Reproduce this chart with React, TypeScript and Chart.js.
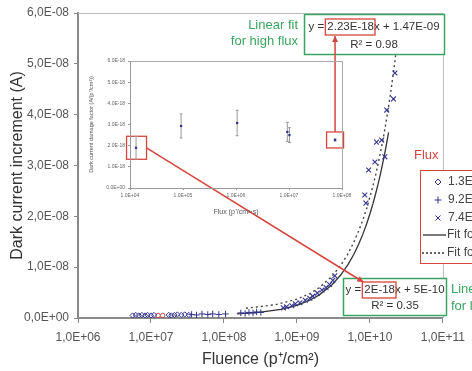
import React, { useEffect, useRef } from 'react';
import { Chart, registerables } from 'chart.js';
Chart.register(...registerables);

const FONT = "'Liberation Sans', Arial, sans-serif";
const NAVY = '#33338f';
const RED = '#d6453d';
const GREEN = '#3aa461';
const GREY_TEXT = '#555555';

// ---- main chart axes ----
const xTickValues = [1e6, 1e7, 1e8, 1e9, 1e10, 1e11];
const xTickLabels = ['1,0E+06', '1,0E+07', '1,0E+08', '1,0E+09', '1,0E+10', '1,0E+11'];
const yTickValues = [0, 1e-8, 2e-8, 3e-8, 4e-8, 5e-8, 6e-8];
const yTickLabels = ['0,0E+00', '1,0E-08', '2,0E-08', '3,0E-08', '4,0E-08', '5,0E-08', '6,0E-08'];

// ---- main chart series (fluence, dark current increment) ----
const lowFluence = [5.6e6, 6.2e6, 6.8e6, 7.5e6, 8.3e6, 9.0e6, 1.0e7, 1.1e7, 1.75e7, 1.9e7, 2.1e7, 2.3e7, 2.6e7, 2.9e7, 3.3e7];
const lowValues = [5e-10, 6e-10, 5e-10, 6e-10, 5e-10, 6e-10, 5e-10, 6e-10, 6e-10, 5e-10, 6e-10, 7e-10, 6e-10, 7e-10, 6e-10];

const otherFluence = [1.25e7, 1.45e7];
const otherValues = [5e-10, 5e-10];

const midFluence = [3.6e7, 4.2e7, 5e7, 6e7, 7e7, 8.5e7, 1.05e8, 1.7e8, 1.95e8, 2.2e8, 2.5e8, 2.8e8, 3.2e8];
const midValues = [7e-10, 6e-10, 8e-10, 7e-10, 8e-10, 7e-10, 8e-10, 1.0e-9, 9e-10, 1.1e-9, 1.0e-9, 1.2e-9, 1.1e-9];

const highFluence = [6.5e8, 7.2e8, 8.5e8, 9.5e8, 1.1e9, 1.3e9, 1.5e9, 1.65e9, 1.9e9, 2.2e9, 2.5e9, 2.8e9, 3.1e9, 3.3e9, 8.5e9, 8.8e9, 9.6e9, 1.17e10, 1.23e10, 1.45e10, 1.6e10, 1.7e10, 2.1e10, 2.2e10];
const highValues = [2.0e-9, 2.2e-9, 2.4e-9, 2.8e-9, 3.0e-9, 3.5e-9, 3.9e-9, 4.3e-9, 4.9e-9, 5.5e-9, 6.0e-9, 6.6e-9, 7.4e-9, 8.3e-9, 2.42e-8, 2.26e-8, 2.91e-8, 3.07e-8, 3.46e-8, 3.5e-8, 3.17e-8, 4.09e-8, 4.31e-8, 4.82e-8];

// fit curves
const fitLowFluence = [1.5e8, 3e8, 6e8, 1e9, 1.5e9, 2e9, 3e9, 4e9, 5e9, 6e9, 7e9, 8e9, 9e9, 1e10, 1.1e10, 1.2e10, 1.3e10, 1.4e10, 1.5e10, 1.6e10, 1.7e10, 1.8e10];
const fitLowValues = [8e-10, 1.1e-9, 1.7e-9, 2.5e-9, 3.5e-9, 4.5e-9, 6.5e-9, 8.5e-9, 1.05e-8, 1.25e-8, 1.45e-8, 1.65e-8, 1.85e-8, 2.05e-8, 2.25e-8, 2.45e-8, 2.65e-8, 2.85e-8, 3.05e-8, 3.25e-8, 3.45e-8, 3.65e-8];
const fitHighFluence = [2e8, 5e8, 1e9, 1.5e9, 2e9, 3e9, 4e9, 5e9, 6e9, 7e9, 8e9, 9e9, 1e10, 1.1e10, 1.2e10, 1.3e10, 1.4e10, 1.5e10, 1.6e10, 1.7e10, 1.8e10, 1.9e10, 2e10, 2.1e10, 2.25e10];
const fitHighValues = [1.92e-9, 2.6e-9, 3.7e-9, 4.8e-9, 5.93e-9, 8.16e-9, 1.04e-8, 1.26e-8, 1.49e-8, 1.71e-8, 1.93e-8, 2.15e-8, 2.38e-8, 2.6e-8, 2.82e-8, 3.05e-8, 3.27e-8, 3.49e-8, 3.71e-8, 3.94e-8, 4.16e-8, 4.38e-8, 4.61e-8, 4.83e-8, 5.17e-8];

// ---- inset ----
const insetXTickValues = [1e4, 1e5, 1e6, 1e7, 1e8];
const insetXTickLabels = ['1.0E+04', '1.0E+05', '1.0E+06', '1.0E+07', '1.0E+08'];
const insetYTickValues = [0, 1e-18, 2e-18, 3e-18, 4e-18, 5e-18, 6e-18];
const insetYTickLabels = ['0.0E+00', '1.0E-18', '2.0E-18', '3.0E-18', '4.0E-18', '5.0E-18', '6.0E-18'];
const insetFlux = [1.3e4, 9.2e4, 1.05e6, 9.3e6, 1.02e7, 7.4e7];
const insetFactor = [1.9e-18, 2.93e-18, 3.07e-18, 2.65e-18, 2.5e-18, 2.27e-18];
const insetError = [0.54e-18, 0.57e-18, 0.6e-18, 0.45e-18, 0.35e-18, 0.05e-18];

// legend labels
const legendLabels = ['1.3E+04 p⁺/cm²s', '9.2E+04 p⁺/cm²s', '7.4E+07 p⁺/cm²s', 'Fit for low flux', 'Fit for high flux'];

const pts = (xs: number[], ys: number[]) => xs.map((x, i) => ({ x, y: ys[i] }));

function arrow(ctx: CanvasRenderingContext2D, x1: number, y1: number, x2: number, y2: number) {
  ctx.beginPath();
  ctx.moveTo(x1, y1);
  ctx.lineTo(x2, y2);
  ctx.stroke();
  const a = Math.atan2(y2 - y1, x2 - x1);
  const L = 6, W = 3;
  ctx.beginPath();
  ctx.moveTo(x2, y2);
  ctx.lineTo(x2 - L * Math.cos(a) + W * Math.sin(a), y2 - L * Math.sin(a) - W * Math.cos(a));
  ctx.lineTo(x2 - L * Math.cos(a) - W * Math.sin(a), y2 - L * Math.sin(a) + W * Math.cos(a));
  ctx.closePath();
  ctx.fill();
}

function eqBox(ctx: CanvasRenderingContext2D, cx: number, y1: number, y2: number, pre: string, coef: string, post: string, r2: string) {
  ctx.font = `11.5px ${FONT}`;
  ctx.fillStyle = '#333';
  ctx.textBaseline = 'middle';
  ctx.textAlign = 'left';
  const full = pre + coef + post;
  const w = ctx.measureText(full).width;
  const x0 = cx - w / 2;
  ctx.fillText(full, x0, y1);
  const wPre = ctx.measureText(pre).width;
  const wCoef = ctx.measureText(pre + coef).width;
  ctx.textAlign = 'center';
  ctx.fillText(r2, cx, y2);
  ctx.strokeStyle = RED;
  ctx.lineWidth = 1.3;
  const box = { x: x0 + wPre - 2, y: y1 - 8, w: wCoef - wPre + 3, h: 16 };
  ctx.strokeRect(box.x, box.y, box.w, box.h);
  return box;
}

export default function App() {
  const mainRef = useRef<HTMLCanvasElement>(null);
  const insetRef = useRef<HTMLCanvasElement>(null);

  useEffect(() => {
    document.body.style.margin = '0';
    Chart.defaults.font.family = FONT;
    const INSET_LEFT = 80, INSET_TOP = 55;

    const errorBars = {
      id: 'errorBars',
      beforeDatasetsDraw(chart: any) {
        const { ctx } = chart;
        const xs = chart.scales.x, ys = chart.scales.y;
        ctx.save();
        ctx.strokeStyle = '#9a9a9a';
        ctx.lineWidth = 1;
        insetFlux.forEach((f, i) => {
          const x = xs.getPixelForValue(f);
          const t = ys.getPixelForValue(insetFactor[i] + insetError[i]);
          const b = ys.getPixelForValue(insetFactor[i] - insetError[i]);
          ctx.beginPath();
          ctx.moveTo(x, t); ctx.lineTo(x, b);
          ctx.moveTo(x - 1.5, t); ctx.lineTo(x + 1.5, t);
          ctx.moveTo(x - 1.5, b); ctx.lineTo(x + 1.5, b);
          ctx.stroke();
        });
        ctx.restore();
      },
      afterDraw(chart: any) {
        const { ctx, chartArea: a } = chart;
        ctx.save();
        ctx.strokeStyle = '#a8a8a8';
        ctx.lineWidth = 1;
        ctx.beginPath();
        ctx.moveTo(a.left, a.top + 0.5);
        ctx.lineTo(a.right + 0.5, a.top + 0.5);
        ctx.lineTo(a.right + 0.5, a.bottom);
        ctx.stroke();
        ctx.restore();
      },
    };

    const inset = new Chart(insetRef.current!, {
      type: 'scatter',
      data: {
        datasets: [{
          data: pts(insetFlux, insetFactor),
          pointStyle: 'rect', pointRadius: 1.6,
          backgroundColor: NAVY, borderColor: NAVY, borderWidth: 0,
        }],
      },
      options: {
        responsive: false, animation: false,
        layout: { padding: { top: 6, right: 13, left: 0, bottom: 0 } },
        plugins: { legend: { display: false }, tooltip: { enabled: false } },
        scales: {
          x: {
            type: 'logarithmic', min: 1e4, max: 1e8,
            afterBuildTicks: (s: any) => { s.ticks = insetXTickValues.map(v => ({ value: v })); },
            afterFit: (s: any) => { s.height = 32; },
            ticks: { font: { size: 5 }, color: '#666', padding: 3, maxRotation: 0, autoSkip: false, callback: (_v: any, i: number) => insetXTickLabels[i] },
            grid: { drawOnChartArea: false, tickLength: 2, color: '#999' },
            border: { color: '#999', width: 1 },
            title: { display: true, text: 'Flux (p⁺/cm²·s)', font: { size: 7 }, color: '#555', padding: { top: 0, bottom: 4 } },
          },
          y: {
            min: 0, max: 6e-18,
            afterBuildTicks: (s: any) => { s.ticks = insetYTickValues.map(v => ({ value: v })); },
            afterFit: (s: any) => { s.width = 50; },
            ticks: { font: { size: 5 }, color: '#666', padding: 3, callback: (_v: any, i: number) => insetYTickLabels[i] },
            grid: { drawOnChartArea: false, tickLength: 2, color: '#999' },
            border: { color: '#999', width: 1 },
            title: { display: true, text: 'Dark current damage factor (A/(p⁺/cm²))', font: { size: 5.5 }, color: '#555', padding: { top: 8, bottom: 0 } },
          },
        },
      },
      plugins: [errorBars],
    } as any);

    const annotations = {
      id: 'annotations',
      afterDraw(chart: any) {
        const { ctx, chartArea: a } = chart;
        ctx.save();
        // plot frame (top/right)
        ctx.strokeStyle = '#bdbdbd';
        ctx.lineWidth = 1;
        ctx.beginPath();
        ctx.moveTo(a.left, a.top + 0.5);
        ctx.lineTo(a.right + 0.5, a.top + 0.5);
        ctx.lineTo(a.right + 0.5, a.bottom);
        ctx.stroke();

        // inset red boxes computed from inset scale
        const ix = inset.scales.x, iy = inset.scales.y;
        const p1x = ix.getPixelForValue(insetFlux[0]) + INSET_LEFT;
        const p1y = iy.getPixelForValue(insetFactor[0]) + INSET_TOP;
        const p5x = ix.getPixelForValue(insetFlux[5]) + INSET_LEFT;
        const p5y = iy.getPixelForValue(insetFactor[5]) + INSET_TOP;
        ctx.strokeStyle = RED;
        ctx.fillStyle = RED;
        ctx.lineWidth = 1.3;
        ctx.strokeRect(p1x - 9.5, p1y - 11.5, 20, 23);
        ctx.strokeRect(p5x - 8.5, p5y - 8, 17, 16);

        // upper green box
        ctx.fillStyle = '#fff';
        ctx.fillRect(304, 14, 140, 40);
        ctx.strokeStyle = GREEN;
        ctx.lineWidth = 1.5;
        ctx.strokeRect(304.5, 14.5, 140, 40);
        const upBox = eqBox(ctx, 374, 27, 45, 'y = ', '2.23E-18', 'x + 1.47E-09', 'R² = 0.98');
        ctx.fillStyle = GREEN;
        ctx.font = `13px ${FONT}`;
        ctx.textAlign = 'right';
        ctx.textBaseline = 'middle';
        ctx.fillText('Linear fit', 298, 25);
        ctx.fillText('for high flux', 298, 41);

        // lower green box
        ctx.fillStyle = '#fff';
        ctx.fillRect(343, 278, 104, 37);
        ctx.strokeStyle = GREEN;
        ctx.lineWidth = 1.5;
        ctx.strokeRect(343.5, 278.5, 103, 37);
        const lowBox = eqBox(ctx, 395, 290, 306, 'y = ', '2E-18', 'x + 5E-10', 'R² = 0.35');
        ctx.fillStyle = GREEN;
        ctx.font = `13px ${FONT}`;
        ctx.textAlign = 'left';
        ctx.fillText('Linear fit', 451, 289);
        ctx.fillText('for low flux', 451, 306);

        // arrows
        ctx.strokeStyle = RED;
        ctx.fillStyle = RED;
        ctx.lineWidth = 1.5;
        arrow(ctx, p5x, p5y - 8, p5x, upBox.y + upBox.h + 1);
        arrow(ctx, p1x + 10.5, p1y, lowBox.x + 1, lowBox.y);

        // legend
        ctx.fillStyle = RED;
        ctx.font = `13px ${FONT}`;
        ctx.textAlign = 'left';
        ctx.fillText('Flux', 414, 155);
        ctx.fillStyle = '#fff';
        ctx.fillRect(420, 170, 60, 93);
        ctx.strokeStyle = RED;
        ctx.lineWidth = 1;
        ctx.strokeRect(420.5, 170.5, 60, 93);
        const rows = [182, 200, 218, 235, 253];
        const sx = 438;
        ctx.strokeStyle = NAVY;
        ctx.lineWidth = 1;
        // diamond
        ctx.beginPath();
        ctx.moveTo(sx, rows[0] - 3); ctx.lineTo(sx + 3, rows[0]); ctx.lineTo(sx, rows[0] + 3); ctx.lineTo(sx - 3, rows[0]); ctx.closePath();
        ctx.stroke();
        // plus
        ctx.beginPath();
        ctx.moveTo(sx - 3.5, rows[1]); ctx.lineTo(sx + 3.5, rows[1]);
        ctx.moveTo(sx, rows[1] - 3.5); ctx.lineTo(sx, rows[1] + 3.5);
        ctx.stroke();
        // cross
        ctx.beginPath();
        ctx.moveTo(sx - 2.5, rows[2] - 2.5); ctx.lineTo(sx + 2.5, rows[2] + 2.5);
        ctx.moveTo(sx + 2.5, rows[2] - 2.5); ctx.lineTo(sx - 2.5, rows[2] + 2.5);
        ctx.stroke();
        ctx.strokeStyle = '#333';
        ctx.lineWidth = 1.3;
        ctx.beginPath(); ctx.moveTo(423, rows[3]); ctx.lineTo(446, rows[3]); ctx.stroke();
        ctx.setLineDash([2, 2]);
        ctx.beginPath(); ctx.moveTo(422, rows[4]); ctx.lineTo(446, rows[4]); ctx.stroke();
        ctx.setLineDash([]);
        ctx.fillStyle = '#444';
        ctx.font = `12px ${FONT}`;
        legendLabels.forEach((t, i) => ctx.fillText(t, i < 3 ? 448 : 447, rows[i]));
        ctx.restore();
      },
    };

    const main = new Chart(mainRef.current!, {
      type: 'scatter',
      data: {
        datasets: [
          { data: pts(lowFluence, lowValues), pointStyle: 'rectRot', pointRadius: 2.6, borderColor: NAVY, backgroundColor: 'rgba(0,0,0,0)', borderWidth: 1 },
          { data: pts(otherFluence, otherValues), pointStyle: 'circle', pointRadius: 2.2, borderColor: '#c0504d', backgroundColor: 'rgba(0,0,0,0)', borderWidth: 1 },
          { data: pts(midFluence, midValues), pointStyle: 'cross', pointRadius: 3.2, borderColor: NAVY, borderWidth: 1 },
          { data: pts(highFluence, highValues), pointStyle: 'crossRot', pointRadius: 3.4, borderColor: NAVY, borderWidth: 1.1 },
          { data: pts(fitLowFluence, fitLowValues), showLine: true, pointRadius: 0, borderColor: '#333', borderWidth: 1.3 },
          { data: pts(fitHighFluence, fitHighValues), showLine: true, pointRadius: 0, borderColor: '#444', borderWidth: 1.4, borderDash: [2, 3] },
        ],
      },
      options: {
        responsive: false, animation: false,
        layout: { padding: { top: 13, right: 25, left: 0, bottom: 0 } },
        plugins: { legend: { display: false }, tooltip: { enabled: false } },
        scales: {
          x: {
            type: 'logarithmic', min: 1e6, max: 1e11,
            afterBuildTicks: (s: any) => { s.ticks = xTickValues.map(v => ({ value: v })); },
            afterFit: (s: any) => { s.height = 53; },
            ticks: { font: { size: 12 }, color: GREY_TEXT, padding: 7, maxRotation: 0, autoSkip: false, callback: (_v: any, i: number) => xTickLabels[i] },
            grid: { drawOnChartArea: false, tickLength: 5, color: '#888' },
            border: { color: '#8a8a8a', width: 2 },
            title: { display: true, text: 'Fluence (p⁺/cm²)', font: { size: 16 }, color: '#333', padding: { top: 0, bottom: 2 } },
          },
          y: {
            min: 0, max: 6e-8,
            afterBuildTicks: (s: any) => { s.ticks = yTickValues.map(v => ({ value: v })); },
            afterFit: (s: any) => { s.width = 78; },
            ticks: { font: { size: 12 }, color: GREY_TEXT, padding: 5, callback: (_v: any, i: number) => yTickLabels[i] },
            grid: { drawOnChartArea: false, tickLength: 4, color: '#888' },
            border: { color: '#8a8a8a', width: 2 },
            title: { display: true, text: 'Dark current increment (A)', font: { size: 16 }, color: '#333', padding: { top: 8, bottom: 0 } },
          },
        },
      },
      plugins: [annotations],
    } as any);

    return () => { main.destroy(); inset.destroy(); };
  }, []);

  return (
    <div style={{ position: 'relative', width: 472, height: 371, overflow: 'hidden', background: '#fff' }}>
      <canvas ref={mainRef} width={472} height={371} style={{ position: 'absolute', left: 0, top: 0 }} />
      <canvas ref={insetRef} width={275} height={165} style={{ position: 'absolute', left: 80, top: 55 }} />
    </div>
  );
}
